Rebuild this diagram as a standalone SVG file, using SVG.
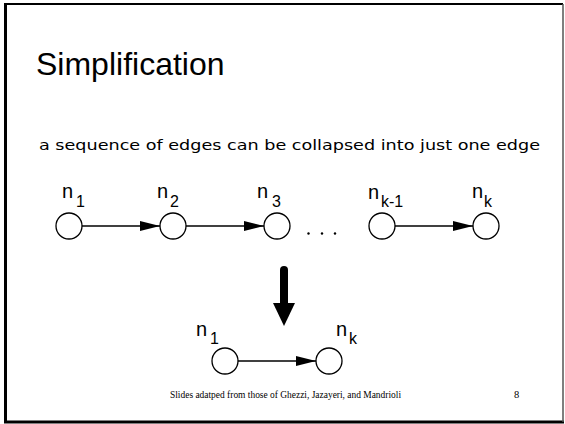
<svg xmlns="http://www.w3.org/2000/svg" width="565" height="424" viewBox="0 0 565 424">
<style>
.node circle{fill:#fff;stroke:#000;stroke-width:1.3}
.lbl{font-family:"Liberation Sans",Arial,sans-serif;font-size:20px;fill:#000}
.sub{font-family:"Liberation Sans",Arial,sans-serif;font-size:16px;fill:#000}
.edge{stroke:#000;stroke-width:1.3;fill:none}
</style>
<defs>
<marker id="ah" markerUnits="userSpaceOnUse" markerWidth="20" markerHeight="10" refX="20" refY="5" orient="auto">
<path d="M0,0 L20,5 L0,10 z" fill="#000"/>
</marker>
</defs>
<rect x="0" y="0" width="565" height="424" fill="#fff"/>
<g id="frame">
<line x1="5.5" y1="3" x2="5.5" y2="423" stroke="#000" stroke-width="3"/>
<line x1="4" y1="4" x2="563" y2="4" stroke="#000" stroke-width="2"/>
<line x1="4" y1="422" x2="564" y2="422" stroke="#000" stroke-width="3"/>
<line x1="563" y1="4" x2="563" y2="422" stroke="#555" stroke-width="1.5"/>
</g>
<text x="36" y="75" font-family="'Liberation Sans',Arial,sans-serif" font-size="32">Simplification</text>
<text x="39" y="150" font-family="'DejaVu Sans',Verdana,sans-serif" font-size="14" textLength="501" lengthAdjust="spacingAndGlyphs">a sequence of edges can be collapsed into just one edge</text>
<g id="connectors">
<line class="edge" x1="82" y1="226" x2="160" y2="226" marker-end="url(#ah)"/>
<line class="edge" x1="186" y1="226" x2="264" y2="226" marker-end="url(#ah)"/>
<line class="edge" x1="395" y1="226" x2="473" y2="226" marker-end="url(#ah)"/>
<line class="edge" x1="238" y1="361" x2="316" y2="361" marker-end="url(#ah)"/>
</g>
<g id="n1" class="node">
<circle cx="69" cy="226" r="13"/>
<text class="lbl" x="62" y="198">n</text><text class="sub" x="76" y="207">1</text>
</g>
<g id="n2" class="node">
<circle cx="173" cy="226" r="13"/>
<text class="lbl" x="157" y="198">n</text><text class="sub" x="170" y="207">2</text>
</g>
<g id="n3" class="node">
<circle cx="277" cy="226" r="13"/>
<text class="lbl" x="257" y="198">n</text><text class="sub" x="272" y="207">3</text>
</g>
<g id="dots" fill="#000">
<circle cx="308.5" cy="233.5" r="1.2"/>
<circle cx="322" cy="233.5" r="1.2"/>
<circle cx="335" cy="233.5" r="1.2"/>
</g>
<g id="nk1" class="node">
<circle cx="382" cy="226" r="13"/>
<text class="lbl" x="368" y="199">n</text><text class="sub" x="381" y="207">k-1</text>
</g>
<g id="nk" class="node">
<circle cx="486" cy="226" r="13"/>
<text class="lbl" x="472" y="198">n</text><text class="sub" x="484" y="207">k</text>
</g>
<g id="bigarrow">
<line x1="284" y1="270" x2="284" y2="305" stroke="#000" stroke-width="8" stroke-linecap="round"/>
<path d="M273,303 L295,303 L284,326 z" fill="#000"/>
</g>
<g id="b1" class="node">
<circle cx="225" cy="361" r="13"/>
<text class="lbl" x="196" y="336">n</text><text class="sub" x="210" y="344">1</text>
</g>
<g id="bk" class="node">
<circle cx="329" cy="361" r="13"/>
<text class="lbl" x="336" y="336">n</text><text class="sub" x="349" y="344">k</text>
</g>
<text x="170" y="398" font-family="'Liberation Serif','Times New Roman',serif" font-size="10.5" textLength="231" lengthAdjust="spacingAndGlyphs">Slides adatped from those of Ghezzi, Jazayeri, and Mandrioli</text>
<text x="514" y="398" font-family="'Liberation Serif','Times New Roman',serif" font-size="10.5">8</text>
</svg>
